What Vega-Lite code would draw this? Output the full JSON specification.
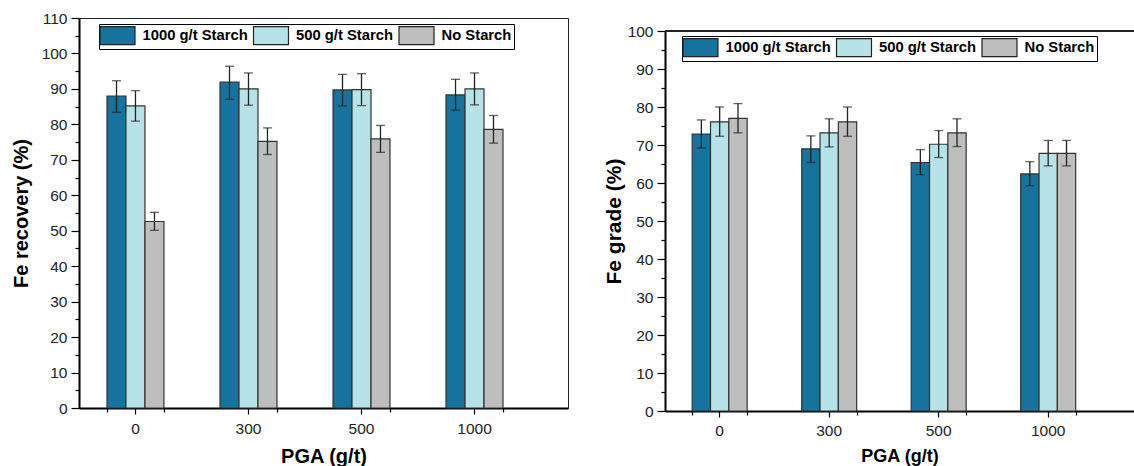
{
  "$schema": "https://vega.github.io/schema/vega-lite/v6.json",
  "padding": {"left": 10, "top": 10, "right": 0, "bottom": 0},
  "config": {
    "font": "Liberation Sans",
    "view": {"stroke": "#222", "strokeWidth": 1},
    "axis": {"grid": false, "domainColor": "#000", "domainWidth": 2, "tickColor": "#000", "tickWidth": 1.2, "labelFontSize": 15.5, "labelColor": "#222", "labelFont": "Liberation Sans", "titleFontSize": 20, "titleFontWeight": "bold", "titleColor": "#000", "titleFont": "Liberation Sans"},
    "legend": {"orient": "none", "direction": "horizontal", "title": null,
      "symbolType": "M-2,-1.03H2V1.03H-2Z", "symbolSize": 306, "symbolOffset": 7, "symbolStrokeColor": "#222", "symbolStrokeWidth": 1.2, "symbolOpacity": 1,
      "labelFontSize": 14.8, "labelFontWeight": "bold", "labelColor": "#000", "labelFont": "Liberation Sans", "labelOffset": 15.5, "labelLimit": 300,
      "columnPadding": 2.5, "padding": 2, "strokeColor": "#000", "fillColor": "#fff"}
  },
  "datasets": {
    "recovery": [
      {"PGA": "0", "Starch": "1000 g/t Starch", "value": 88.0, "lo": 83.4, "hi": 92.3},
      {"PGA": "0", "Starch": "500 g/t Starch", "value": 85.2, "lo": 80.9, "hi": 89.5},
      {"PGA": "0", "Starch": "No Starch", "value": 52.6, "lo": 50.1, "hi": 55.2},
      {"PGA": "300", "Starch": "1000 g/t Starch", "value": 91.9, "lo": 87.1, "hi": 96.4},
      {"PGA": "300", "Starch": "500 g/t Starch", "value": 90.0, "lo": 85.4, "hi": 94.5},
      {"PGA": "300", "Starch": "No Starch", "value": 75.2, "lo": 71.5, "hi": 79.0},
      {"PGA": "500", "Starch": "1000 g/t Starch", "value": 89.7, "lo": 85.2, "hi": 94.1},
      {"PGA": "500", "Starch": "500 g/t Starch", "value": 89.8, "lo": 85.3, "hi": 94.3},
      {"PGA": "500", "Starch": "No Starch", "value": 75.9, "lo": 72.1, "hi": 79.7},
      {"PGA": "1000", "Starch": "1000 g/t Starch", "value": 88.3, "lo": 84.0, "hi": 92.7},
      {"PGA": "1000", "Starch": "500 g/t Starch", "value": 90.0, "lo": 85.5, "hi": 94.5},
      {"PGA": "1000", "Starch": "No Starch", "value": 78.6, "lo": 74.7, "hi": 82.5}
    ],
    "grade": [
      {"PGA": "0", "Starch": "1000 g/t Starch", "value": 72.9, "lo": 69.2, "hi": 76.6},
      {"PGA": "0", "Starch": "500 g/t Starch", "value": 76.1, "lo": 72.3, "hi": 80.0},
      {"PGA": "0", "Starch": "No Starch", "value": 77.0, "lo": 73.2, "hi": 80.9},
      {"PGA": "300", "Starch": "1000 g/t Starch", "value": 69.0, "lo": 65.4, "hi": 72.4},
      {"PGA": "300", "Starch": "500 g/t Starch", "value": 73.2, "lo": 69.5, "hi": 76.9},
      {"PGA": "300", "Starch": "No Starch", "value": 76.1, "lo": 72.3, "hi": 80.0},
      {"PGA": "500", "Starch": "1000 g/t Starch", "value": 65.4, "lo": 62.2, "hi": 68.8},
      {"PGA": "500", "Starch": "500 g/t Starch", "value": 70.2, "lo": 66.7, "hi": 73.8},
      {"PGA": "500", "Starch": "No Starch", "value": 73.2, "lo": 69.6, "hi": 76.9},
      {"PGA": "1000", "Starch": "1000 g/t Starch", "value": 62.4, "lo": 59.3, "hi": 65.6},
      {"PGA": "1000", "Starch": "500 g/t Starch", "value": 67.8, "lo": 64.5, "hi": 71.2},
      {"PGA": "1000", "Starch": "No Starch", "value": 67.8, "lo": 64.5, "hi": 71.2}
    ]
  },
  "hconcat": [
    {
      "width": 489,
      "height": 390,
      "data": {"name": "recovery"},
      "layer": [
        {
          "mark": {"type": "bar", "stroke": "#333", "strokeWidth": 1.2},
          "encoding": {
            "x": {"field": "PGA", "type": "nominal", "title": "PGA (g/t)",
              "scale": {"domain": ["0", "300", "500", "1000"], "paddingInner": 0.496, "paddingOuter": 0.4115, "align": 0.301},
              "axis": {"orient": "bottom", "labelAngle": 0, "tickSize": 6, "labelPadding": 7, "titlePadding": 10}},
            "xOffset": {"field": "Starch", "type": "nominal", "scale": {"domain": ["1000 g/t Starch", "500 g/t Starch", "No Starch"], "paddingInner": 0, "paddingOuter": 0}},
            "y": {"field": "value", "type": "quantitative", "title": "Fe recovery (%)",
              "scale": {"domain": [0, 110], "nice": false},
              "axis": {"values": [0,5,10,15,20,25,30,35,40,45,50,55,60,65,70,75,80,85,90,95,100,105,110],
                "labelExpr": "datum.value % 10 === 0 ? datum.label : ''",
                "tickSize": {"condition": {"test": "datum.value % 10 !== 0", "value": 4}, "value": 8},
                "labelPadding": 4, "titlePadding": 10}},
            "color": {"field": "Starch", "type": "nominal",
              "scale": {"domain": ["1000 g/t Starch", "500 g/t Starch", "No Starch"], "range": ["#15739D", "#B5E3E8", "#BEBEBE"]},
              "legend": {"legendX": 20, "legendY": 6}}
          }
        },
        {
          "mark": {"type": "rule", "color": "#222", "strokeWidth": 1.3},
          "encoding": {
            "x": {"field": "PGA", "type": "nominal", "title": null,
              "scale": {"domain": ["0", "300", "500", "1000"], "paddingInner": 0.496, "paddingOuter": 0.4115, "align": 0.301},
              "axis": {"orient": "bottom", "tickBand": "extent", "labels": false, "domain": false, "tickSize": 4, "title": null}},
            "xOffset": {"field": "Starch", "type": "nominal", "scale": {"domain": ["1000 g/t Starch", "500 g/t Starch", "No Starch"], "paddingInner": 0, "paddingOuter": 0}},
            "y": {"field": "lo", "type": "quantitative", "title": "Fe recovery (%)", "scale": {"domain": [0, 110], "nice": false},
              "axis": {"values": [0,5,10,15,20,25,30,35,40,45,50,55,60,65,70,75,80,85,90,95,100,105,110],
                "labelExpr": "datum.value % 10 === 0 ? datum.label : ''",
                "tickSize": {"condition": {"test": "datum.value % 10 !== 0", "value": 4}, "value": 8},
                "labelPadding": 4, "titlePadding": 10}},
            "y2": {"field": "hi"}
          }
        },
        {
          "mark": {"type": "tick", "orient": "horizontal", "size": 9, "thickness": 1.3, "color": "#222"},
          "encoding": {
            "x": {"field": "PGA", "type": "nominal", "axis": null,
              "scale": {"domain": ["0", "300", "500", "1000"], "paddingInner": 0.496, "paddingOuter": 0.4115, "align": 0.301}},
            "xOffset": {"field": "Starch", "type": "nominal", "scale": {"domain": ["1000 g/t Starch", "500 g/t Starch", "No Starch"], "paddingInner": 0, "paddingOuter": 0}},
            "y": {"field": "hi", "type": "quantitative", "title": "Fe recovery (%)", "scale": {"domain": [0, 110], "nice": false},
              "axis": {"values": [0,5,10,15,20,25,30,35,40,45,50,55,60,65,70,75,80,85,90,95,100,105,110],
                "labelExpr": "datum.value % 10 === 0 ? datum.label : ''",
                "tickSize": {"condition": {"test": "datum.value % 10 !== 0", "value": 4}, "value": 8},
                "labelPadding": 4, "titlePadding": 10}}
          }
        },
        {
          "mark": {"type": "tick", "orient": "horizontal", "size": 9, "thickness": 1.3, "color": "#222"},
          "encoding": {
            "x": {"field": "PGA", "type": "nominal", "axis": null,
              "scale": {"domain": ["0", "300", "500", "1000"], "paddingInner": 0.496, "paddingOuter": 0.4115, "align": 0.301}},
            "xOffset": {"field": "Starch", "type": "nominal", "scale": {"domain": ["1000 g/t Starch", "500 g/t Starch", "No Starch"], "paddingInner": 0, "paddingOuter": 0}},
            "y": {"field": "lo", "type": "quantitative", "title": "Fe recovery (%)", "scale": {"domain": [0, 110], "nice": false},
              "axis": {"values": [0,5,10,15,20,25,30,35,40,45,50,55,60,65,70,75,80,85,90,95,100,105,110],
                "labelExpr": "datum.value % 10 === 0 ? datum.label : ''",
                "tickSize": {"condition": {"test": "datum.value % 10 !== 0", "value": 4}, "value": 8},
                "labelPadding": 4, "titlePadding": 10}}
          }
        }
      ],
      "resolve": {"axis": {"x": "independent"}}
    },
    {
      "width": 469,
      "height": 393,
      "view": {"stroke": null},
      "data": {"name": "grade"},
      "layer": [
        {
          "mark": {"type": "bar", "stroke": "#333", "strokeWidth": 1.2},
          "encoding": {
            "x": {"field": "PGA", "type": "nominal", "title": "PGA (g/t)",
              "scale": {"domain": ["0", "300", "500", "1000"], "paddingInner": 0.498, "paddingOuter": 0.3905, "align": 0.318},
              "axis": {"orient": "bottom", "labelAngle": 0, "tickSize": 6, "labelPadding": 6, "titlePadding": 9, "titleFontSize": 18}},
            "xOffset": {"field": "Starch", "type": "nominal", "scale": {"domain": ["1000 g/t Starch", "500 g/t Starch", "No Starch"], "paddingInner": 0, "paddingOuter": 0}},
            "y": {"field": "value", "type": "quantitative", "title": "Fe grade (%)",
              "scale": {"domain": [0, 100], "nice": false, "range": [393, 13]},
              "axis": {"values": [0,5,10,15,20,25,30,35,40,45,50,55,60,65,70,75,80,85,90,95,100],
                "labelExpr": "datum.value % 10 === 0 ? datum.label : ''",
                "tickSize": {"condition": {"test": "datum.value % 10 !== 0", "value": 4}, "value": 8},
                "labelPadding": 4, "titlePadding": 3, "titleFontSize": 21}},
            "color": {"field": "Starch", "type": "nominal",
              "scale": {"domain": ["1000 g/t Starch", "500 g/t Starch", "No Starch"], "range": ["#15739D", "#B5E3E8", "#BEBEBE"]},
              "legend": {"legendX": 17, "legendY": 18}}
          }
        },
        {
          "mark": {"type": "rule", "color": "#222", "strokeWidth": 1.3},
          "encoding": {
            "x": {"field": "PGA", "type": "nominal", "title": null,
              "scale": {"domain": ["0", "300", "500", "1000"], "paddingInner": 0.498, "paddingOuter": 0.3905, "align": 0.318},
              "axis": {"orient": "bottom", "tickBand": "extent", "labels": false, "domain": false, "tickSize": 4, "title": null}},
            "xOffset": {"field": "Starch", "type": "nominal", "scale": {"domain": ["1000 g/t Starch", "500 g/t Starch", "No Starch"], "paddingInner": 0, "paddingOuter": 0}},
            "y": {"field": "lo", "type": "quantitative", "title": "Fe grade (%)", "scale": {"domain": [0, 100], "nice": false, "range": [393, 13]},
              "axis": {"values": [0,5,10,15,20,25,30,35,40,45,50,55,60,65,70,75,80,85,90,95,100],
                "labelExpr": "datum.value % 10 === 0 ? datum.label : ''",
                "tickSize": {"condition": {"test": "datum.value % 10 !== 0", "value": 4}, "value": 8},
                "labelPadding": 4, "titlePadding": 3, "titleFontSize": 21}},
            "y2": {"field": "hi"}
          }
        },
        {
          "mark": {"type": "tick", "orient": "horizontal", "size": 9, "thickness": 1.3, "color": "#222"},
          "encoding": {
            "x": {"field": "PGA", "type": "nominal", "axis": null,
              "scale": {"domain": ["0", "300", "500", "1000"], "paddingInner": 0.498, "paddingOuter": 0.3905, "align": 0.318}},
            "xOffset": {"field": "Starch", "type": "nominal", "scale": {"domain": ["1000 g/t Starch", "500 g/t Starch", "No Starch"], "paddingInner": 0, "paddingOuter": 0}},
            "y": {"field": "hi", "type": "quantitative", "title": "Fe grade (%)", "scale": {"domain": [0, 100], "nice": false, "range": [393, 13]},
              "axis": {"values": [0,5,10,15,20,25,30,35,40,45,50,55,60,65,70,75,80,85,90,95,100],
                "labelExpr": "datum.value % 10 === 0 ? datum.label : ''",
                "tickSize": {"condition": {"test": "datum.value % 10 !== 0", "value": 4}, "value": 8},
                "labelPadding": 4, "titlePadding": 3, "titleFontSize": 21}}
          }
        },
        {
          "mark": {"type": "tick", "orient": "horizontal", "size": 9, "thickness": 1.3, "color": "#222"},
          "encoding": {
            "x": {"field": "PGA", "type": "nominal", "axis": null,
              "scale": {"domain": ["0", "300", "500", "1000"], "paddingInner": 0.498, "paddingOuter": 0.3905, "align": 0.318}},
            "xOffset": {"field": "Starch", "type": "nominal", "scale": {"domain": ["1000 g/t Starch", "500 g/t Starch", "No Starch"], "paddingInner": 0, "paddingOuter": 0}},
            "y": {"field": "lo", "type": "quantitative", "title": "Fe grade (%)", "scale": {"domain": [0, 100], "nice": false, "range": [393, 13]},
              "axis": {"values": [0,5,10,15,20,25,30,35,40,45,50,55,60,65,70,75,80,85,90,95,100],
                "labelExpr": "datum.value % 10 === 0 ? datum.label : ''",
                "tickSize": {"condition": {"test": "datum.value % 10 !== 0", "value": 4}, "value": 8},
                "labelPadding": 4, "titlePadding": 3, "titleFontSize": 21}}
          }
        },
        {
          "mark": {"type": "rule", "color": "#222", "strokeWidth": 1},
          "encoding": {"y": {"datum": 100, "type": "quantitative", "title": "Fe grade (%)", "scale": {"domain": [0, 100], "nice": false, "range": [393, 13]},
            "axis": {"values": [0,5,10,15,20,25,30,35,40,45,50,55,60,65,70,75,80,85,90,95,100],
                "labelExpr": "datum.value % 10 === 0 ? datum.label : ''",
                "tickSize": {"condition": {"test": "datum.value % 10 !== 0", "value": 4}, "value": 8},
                "labelPadding": 4, "titlePadding": 3, "titleFontSize": 21}}}
        }
      ],
      "resolve": {"axis": {"x": "independent"}}
    }
  ],
  "spacing": 34,
  "resolve": {"scale": {"x": "independent", "y": "independent", "xOffset": "independent"}, "legend": {"color": "independent"}}
}
